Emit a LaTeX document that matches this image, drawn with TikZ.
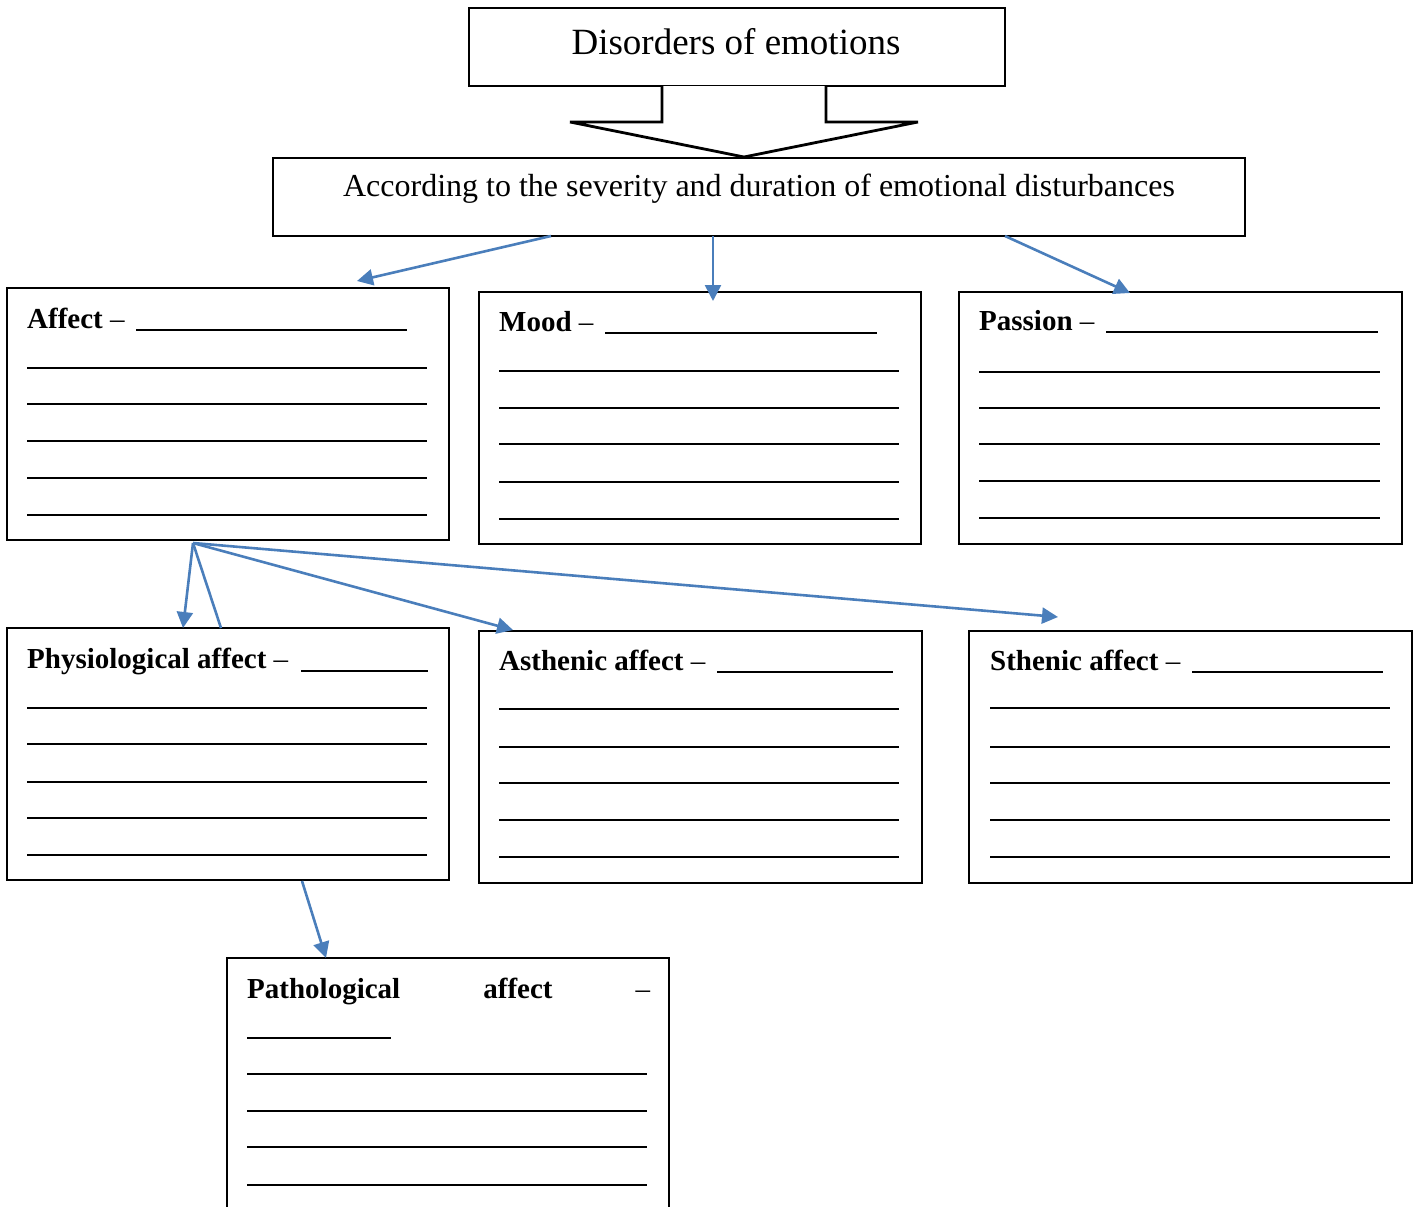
\documentclass[tikz,border=0pt]{standalone}
\usepackage{fontspec}
\setmainfont{Liberation Serif}
\usetikzlibrary{arrows.meta,calc}
\definecolor{arrblue}{RGB}{74,126,187}
\newcommand{\mydash}{{\mdseries –}}
\begin{document}
\begin{tikzpicture}[x=1pt,y=-1pt,
  box/.style={draw=black, line width=1.5pt, rectangle, inner sep=0pt, outer sep=0pt, anchor=north west},
  head/.style={anchor=base west, inner sep=0pt, font=\fontsize{29}{37}\selectfont\bfseries},
  blank/.style={line width=2.2pt},
  conn/.style={draw=arrblue, line width=2.6pt, -{Triangle[length=16pt,width=16pt]}},
  plainconn/.style={draw=arrblue, line width=2.6pt}]
\useasboundingbox (0,0) rectangle (1419,1207);
\clip (0,0) rectangle (1419,1207);

% boxes
\node[box, minimum width=536pt, minimum height=78pt] (title) at (469,8) {};
\node[box, minimum width=972pt, minimum height=78pt] (sev) at (273,158) {};
\node[box, minimum width=442pt, minimum height=252pt] (affect) at (7,288) {};
\node[box, minimum width=442pt, minimum height=252pt] (mood) at (479,292) {};
\node[box, minimum width=443pt, minimum height=252pt] (passion) at (959,292) {};
\node[box, minimum width=442pt, minimum height=252pt] (physio) at (7,628) {};
\node[box, minimum width=443pt, minimum height=252pt] (asth) at (479,631) {};
\node[box, minimum width=443pt, minimum height=252pt] (sthen) at (969,631) {};
\node[box, minimum width=442pt, minimum height=270pt] (patho) at (227,958) {};

% block arrow
\draw[line width=2.8pt, fill=white, line join=miter]
  (662,86) -- (662,122) -- (570,122) -- (744,157) -- (918,122) -- (826,122) -- (826,86);

% texts
\node[anchor=base, inner sep=0pt, font=\fontsize{37}{40}\selectfont] (titletxt) at (736,55) {Disorders of emotions};
\node[anchor=base, inner sep=0pt, font=\fontsize{32}{36}\selectfont] (sevtxt) at (759,196) {According to the severity and duration of emotional disturbances};

\node[head] (affh) at (27,328) {Affect \mydash};
\node[head] (moodh) at (499,331) {Mood \mydash};
\node[head] (passh) at (979,330) {Passion \mydash};
\node[head] (physh) at (27,668) {Physiological affect \mydash};
\node[head] (asthh) at (499,670) {Asthenic affect \mydash};
\node[head] (sthh) at (990,670) {Sthenic affect \mydash};
\node[head] (pathh) at (247,998) {\makebox[403pt][l]{Pathological\hfill affect\hfill \mydash}};

% blanks
\draw[blank] (136,330) -- (407,330);
\foreach \y in {368,404,441,478,515} \draw[blank] (27,\y) -- (427,\y);
\draw[blank] (605,333) -- (877,333);
\foreach \y in {371,408,444,482,519} \draw[blank] (499,\y) -- (899,\y);
\draw[blank] (1106,332) -- (1378,332);
\foreach \y in {372,408,444,481,518} \draw[blank] (979,\y) -- (1380,\y);
\draw[blank] (301,671) -- (428,671);
\foreach \y in {708,744,782,818,855} \draw[blank] (27,\y) -- (427,\y);
\draw[blank] (717,672) -- (893,672);
\foreach \y in {709,747,783,820,857} \draw[blank] (499,\y) -- (899,\y);
\draw[blank] (1192,672) -- (1383,672);
\foreach \y in {708,747,783,820,857} \draw[blank] (990,\y) -- (1390,\y);
\draw[blank] (247,1038) -- (391,1038);
\foreach \y in {1074,1111,1147,1185} \draw[blank] (247,\y) -- (647,\y);

% connector end points
\coordinate (sevA) at ($(sev.south west)+(278,0)$);
\coordinate (sevM) at ($(sev.south west)+(440,0)$);
\coordinate (sevP) at ($(sev.south west)+(732,0)$);
\coordinate (affIn) at ($(affect.north west)+(350,-7)$);
\coordinate (moodIn) at ($(mood.north west)+(234,9)$);
\coordinate (passIn) at ($(passion.north west)+(171,1)$);
\coordinate (affOut) at ($(affect.south west)+(186,3)$);
\coordinate (physIn) at ($(physio.north west)+(176,0)$);
\coordinate (physIn2) at ($(physio.north west)+(214,0)$);
\coordinate (asthIn) at ($(asth.north west)+(34,-1)$);
\coordinate (sthIn) at ($(sthen.north west)+(89,-14)$);
\coordinate (physOut) at ($(physio.south west)+(295,1)$);
\coordinate (pathIn) at ($(patho.north west)+(99,0)$);

% connectors
\draw[conn] (sevA) -- (affIn);
\draw[conn] (sevM) -- (moodIn);
\draw[conn] (sevP) -- (passIn);
\draw[conn] (affOut) -- (physIn);
\draw[plainconn] (affOut) -- (physIn2);
\draw[conn] (affOut) -- (asthIn);
\draw[conn] (affOut) -- (sthIn);
\draw[conn] (physOut) -- (pathIn);
\end{tikzpicture}
\end{document}
